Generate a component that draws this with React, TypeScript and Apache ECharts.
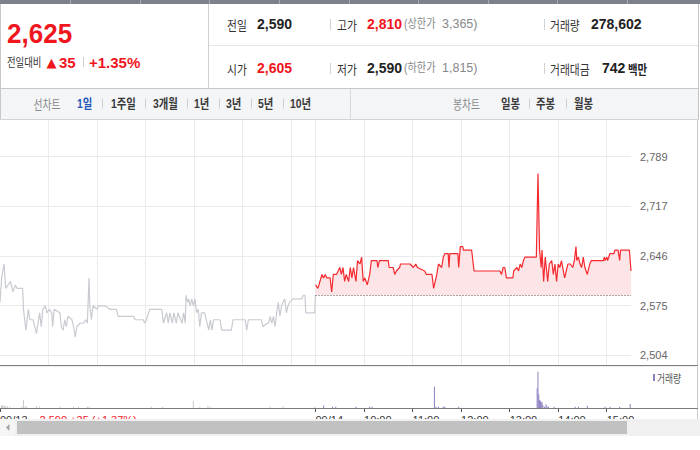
import React, { useEffect, useRef } from 'react';
import * as echarts from 'echarts';

// ---------------- data ----------------
const prevClose = 2590;
const priceTicks = [2504, 2575.25, 2646.5, 2717.75, 2789];

// previous day (minutes from 09:00)
const prevMin = [0, 2, 5, 7, 10, 13, 16, 19, 21, 28,
  29, 32, 35, 37, 41, 45, 49, 51, 53, 56,
  58, 61, 64, 65, 67, 74, 76, 78, 80, 82,
  84, 89, 91, 93, 95, 99, 103, 106, 108, 110,
  111, 113, 115, 120, 122, 128, 130, 136, 144, 146,
  165, 167, 177, 179, 181, 185, 200, 202, 206, 208,
  210, 213, 215, 218, 220, 225, 227, 229, 230, 232,
  233, 235, 237, 239, 241, 243, 245, 247, 249, 253,
  258, 260, 262, 264, 272, 274, 286, 288, 303, 305,
  307, 323, 325, 330, 332, 334, 336, 338, 340, 342,
  344, 346, 348, 350, 352, 354, 356, 358, 362, 373,
  375, 377, 378, 389, 390];
const prevPx = [2580, 2615, 2635, 2600, 2605, 2610, 2595, 2605, 2600, 2600,
  2570, 2540, 2570, 2555, 2555, 2535, 2565, 2545, 2570, 2575,
  2565, 2570, 2565, 2545, 2570, 2565, 2545, 2540, 2555, 2545,
  2560, 2555, 2545, 2530, 2545, 2550, 2550, 2555, 2550, 2615,
  2575, 2555, 2575, 2570, 2575, 2575, 2575, 2570, 2570, 2560,
  2560, 2555, 2555, 2550, 2555, 2570, 2570, 2550, 2565, 2550,
  2565, 2550, 2565, 2550, 2565, 2550, 2565, 2550, 2590, 2580,
  2585, 2575, 2585, 2575, 2585, 2565, 2570, 2545, 2565, 2565,
  2540, 2555, 2540, 2555, 2555, 2540, 2540, 2555, 2555, 2540,
  2555, 2555, 2545, 2550, 2550, 2560, 2550, 2560, 2545, 2565,
  2580, 2560, 2575, 2580, 2585, 2565, 2575, 2580, 2585, 2585,
  2590, 2590, 2565, 2565, 2590];

// today (minutes from 09:00)
const todayMin = [0, 3, 8, 10, 12, 14, 16, 18, 20, 22,
  26, 28, 30, 32, 34, 36, 38, 41, 43, 45,
  47, 50, 52, 55, 57, 59, 61, 64, 67, 69,
  76, 77, 79, 90, 91, 96, 98, 100, 104, 105,
  117, 121, 124, 126, 135, 137, 144, 146, 150, 152,
  156, 158, 160, 164, 165, 166, 176, 177, 179, 182,
  183, 193, 196, 228, 230, 232, 234, 236, 244, 245,
  249, 251, 253, 255, 257, 259, 273, 275, 277, 279,
  280, 282, 284, 287, 289, 292, 294, 296, 298, 300,
  302, 304, 308, 310, 312, 315, 318, 320, 322, 323,
  325, 327, 329, 331, 333, 336, 339, 341, 356, 357,
  358, 360, 361, 364, 369, 370, 374, 376, 377, 388,
  390];
const todayPx = [2605, 2600, 2620, 2615, 2620, 2615, 2615, 2615, 2595, 2620,
  2620, 2625, 2630, 2620, 2630, 2610, 2620, 2610, 2630, 2615,
  2630, 2610, 2640, 2635, 2645, 2610, 2615, 2605, 2620, 2640,
  2640, 2630, 2640, 2640, 2630, 2630, 2620, 2625, 2630, 2635,
  2635, 2630, 2635, 2630, 2625, 2620, 2620, 2600, 2620, 2635,
  2630, 2645, 2650, 2650, 2630, 2650, 2650, 2630, 2660, 2660,
  2655, 2655, 2625, 2625, 2620, 2630, 2630, 2615, 2615, 2625,
  2630, 2625, 2635, 2630, 2640, 2645, 2645, 2765, 2655, 2630,
  2655, 2610, 2645, 2610, 2635, 2640, 2620, 2635, 2610, 2635,
  2630, 2640, 2615, 2625, 2635, 2635, 2630, 2640, 2660, 2640,
  2645, 2635, 2630, 2645, 2630, 2620, 2635, 2640, 2640, 2645,
  2640, 2645, 2640, 2650, 2650, 2655, 2655, 2640, 2655, 2655,
  2625];

const prevVolMin = [2, 3, 5, 6, 7, 9, 12, 27, 29, 31, 33, 45, 49, 74, 91, 97, 108, 110, 187, 201, 239, 247, 257, 260, 334, 350, 389];
const prevVolVal = [4500, 3000, 4500, 3000, 2000, 3000, 2000, 2000, 12000, 3000, 2000, 3000, 2000, 2000, 2000, 2000, 2000, 2000, 2000, 2000, 11000, 2000, 3500, 2000, 2000, 3000, 2000];
const todayVolMin = [10, 21, 25, 50, 67, 70, 147, 149, 152, 158, 160, 177, 274, 275, 276, 277, 278, 279, 280, 281, 283, 285, 286, 288, 295, 321, 325, 336, 358, 364, 376, 389];
const todayVolVal = [3800, 2000, 2000, 2000, 2000, 2000, 32000, 2000, 2000, 2000, 2000, 2000, 29500, 54500, 20500, 12000, 10500, 8500, 8500, 4500, 2000, 5500, 3000, 2000, 2000, 2000, 2000, 3500, 2000, 2000, 2000, 6000];

const gridLineMinutes = [60, 120, 180, 240, 300, 360, 390, 450, 510, 570, 630, 690, 750];
const timeTickMinutes = [0, 390, 450, 510, 570, 630, 690, 750];
const prevDateLabel = '09/13';
const prevDateInfo = '2,590 +35 (+1.37%)';
const todayDateLabel = '09/14';

const currentPrice = '2,625';
const changeAmt = '35';
const changePct = '+1.35%';
const lineTabs = ['1일', '1주일', '3개월', '1년', '3년', '5년', '10년'];
const candleTabs = ['일봉', '주봉', '월봉'];

// ---------------- styling helpers ----------------
const NUM = "'Liberation Sans', 'Noto Sans CJK KR', sans-serif";
const KR = "'Noto Sans CJK KR', 'Liberation Sans', sans-serif";
const RED = '#f0161e';

const txt = (x: number, y: number, text: string, font: string, fill: string, scaleX = 1, z = 10) => ({
  type: 'text', x, y, scaleX, z, silent: true,
  style: { text, x: 0, y: 0, font, fill, textAlign: 'left', textVerticalAlign: 'middle' },
});
const ln = (x1: number, y1: number, x2: number, y2: number, stroke: string, z = 10) => ({
  type: 'line', z, silent: true, shape: { x1, y1, x2, y2 }, style: { stroke, lineWidth: 1 },
});
const rc = (x: number, y: number, width: number, height: number, fill: string, z = 10) => ({
  type: 'rect', z, silent: true, shape: { x, y, width, height }, style: { fill },
});

function buildGraphic() {
  const g: any[] = [];
  // top strip
  g.push(rc(0, 0, 700, 4, '#7d8189'));
  [70, 140, 209, 279, 349, 418, 488, 557, 627].forEach((x) => g.push(ln(x + 0.5, 0, x + 0.5, 4, '#a8acb2')));
  // header frame
  g.push(ln(0.5, 4, 0.5, 120, '#c9c9c9'));
  g.push(ln(208.5, 4, 208.5, 88, '#d0d0d0'));
  g.push(ln(698.5, 4, 698.5, 120, '#c4c4c4'));
  g.push(ln(209, 45.5, 698, 45.5, '#e6e6e6'));
  g.push(ln(0, 88.5, 699, 88.5, '#c6c6c6'));

  // left price box
  g.push(txt(7, 34, currentPrice, `bold 28px ${NUM}`, RED, 0.93));
  g.push(txt(7, 62, '전일대비', `12px ${KR}`, '#333333', 0.78));
  g.push(txt(46.5, 62, '▲', `13px 'DejaVu Sans', sans-serif`, RED));
  g.push(txt(59, 62, changeAmt, `bold 15px ${NUM}`, RED));
  g.push(ln(83.5, 57, 83.5, 67, '#d0d0d0'));
  g.push(txt(89, 62, changePct, `bold 15px ${NUM}`, RED));

  // info rows
  const lab = (x: number, y: number, s: string) => txt(x, y, s, `13px ${KR}`, '#333333', 0.83);
  const val = (x: number, y: number, s: string, c = '#222222') => txt(x, y, s, `bold 14px ${NUM}`, c);
  const par = (x: number, y: number, k: string, n: string) => {
    g.push(txt(x, y, k, `12px ${NUM}`, '#888888', 0.85));
    g.push(txt(x + 38, y, n, `12.5px ${NUM}`, '#888888'));
  };
  const r1 = 24, r2 = 68;
  g.push(lab(227, r1, '전일'), val(257, r1, '2,590'));
  g.push(ln(330.5, r1 - 5, 330.5, r1 + 6, '#d3d3d3'));
  g.push(lab(337, r1, '고가'), val(367, r1, '2,810', RED));
  par(404, r1, '(상한가', '3,365)');
  g.push(ln(544.5, r1 - 5, 544.5, r1 + 6, '#d3d3d3'));
  g.push(lab(550, r1, '거래량'), val(591, r1, '278,602'));

  g.push(lab(227, r2, '시가'), val(257, r2, '2,605', RED));
  g.push(ln(330.5, r2 - 5, 330.5, r2 + 6, '#d3d3d3'));
  g.push(lab(337, r2, '저가'), val(367, r2, '2,590'));
  par(404, r2, '(하한가', '1,815)');
  g.push(ln(544.5, r2 - 5, 544.5, r2 + 6, '#d3d3d3'));
  g.push(lab(550, r2, '거래대금'), val(602, r2, '742'));
  g.push(txt(628, r2, '백만', `bold 13px ${KR}`, '#222222', 0.8));

  // toolbar
  g.push(rc(1, 89, 697, 30, '#f4f5f7', 5));
  g.push(ln(0, 119.5, 699, 119.5, '#d2d4d8'));
  g.push(ln(350.5, 89, 350.5, 119, '#d8dadd'));
  const ty = 103.5;
  g.push(txt(33.5, ty, '선차트', `13px ${KR}`, '#8a8a8a', 0.75));
  const tabX = [77, 111, 153, 194, 226, 258, 290];
  lineTabs.forEach((s, i) => {
    g.push(txt(tabX[i], ty, s, `bold 13px ${NUM}`, i === 0 ? '#2457b8' : '#3a3a3a', 0.8));
  });
  [102, 145, 187, 219, 251, 283].forEach((x) => g.push(ln(x + 0.5, ty - 5, x + 0.5, ty + 5, '#cfcfcf')));
  g.push(txt(453, ty, '봉차트', `13px ${KR}`, '#8a8a8a', 0.75));
  const cX = [501, 536, 574];
  candleTabs.forEach((s, i) => g.push(txt(cX[i], ty, s, `bold 13px ${NUM}`, '#3a3a3a', 0.8)));
  [529, 566].forEach((x) => g.push(ln(x + 0.5, ty - 5, x + 0.5, ty + 5, '#cfcfcf')));

  // chart frame
  g.push(ln(697.5, 120, 697.5, 419, '#c8c8c8'));
  g.push(ln(0, 365.5, 698, 365.5, '#7f7f7f'));
  g.push(ln(0, 366.5, 698, 366.5, '#ececec'));
  g.push(ln(0, 408.5, 698, 408.5, '#7a7a7a'));

  // volume legend
  g.push(rc(653, 374, 2, 7, '#8f7fc1'));
  g.push(txt(657, 378, '거래량', `11.5px ${KR}`, '#555555', 0.76));

  // scrollbar (covers the time labels)
  g.push(rc(0, 419, 700, 17, '#f0f0f0', 100));
  g.push(rc(0, 419, 15, 17, '#f5f5f5', 100));
  g.push(rc(17, 421, 610, 13, '#c1c1c1', 101));
  g.push({ type: 'polygon', z: 101, silent: true, shape: { points: [[6, 427.5], [9.5, 424], [9.5, 431]] }, style: { fill: '#a3a3a3' } });
  return g;
}

const pad2 = (n: number) => (n < 10 ? '0' + n : '' + n);
const timeLabel = (v: number) => {
  if (v === 0) return `{d|${prevDateLabel}}{r|${prevDateInfo}}`;
  if (v === 390) return todayDateLabel;
  const t = v - 390;
  return `${pad2(9 + Math.floor(t / 60))}:${pad2(t % 60)}`;
};

// y range so that the tick values land on the reference grid lines
const pxPerUnit = (355.3 - 156.7) / (priceTicks[4] - priceTicks[0]);
const yMin = priceTicks[0] - (365 - 355.3) / pxPerUnit;
const yMax = priceTicks[4] + (156.7 - 120) / pxPerUnit;

function buildOption(): any {
  return {
    animation: false,
    backgroundColor: '#ffffff',
    grid: [
      { left: 0, right: 69, top: 120, height: 245, containLabel: false, outerBoundsMode: 'none' },
      { left: 0, right: 69, top: 367, height: 41, containLabel: false, outerBoundsMode: 'none' },
    ],
    xAxis: [
      {
        gridIndex: 0, type: 'value', min: 0, max: 780,
        axisLine: { show: false },
        axisTick: { show: false, customValues: gridLineMinutes },
        axisLabel: { show: false, customValues: gridLineMinutes },
        splitLine: { show: true, lineStyle: { color: '#ebebeb', width: 1 } },
      },
      {
        gridIndex: 1, type: 'value', min: 0, max: 780,
        axisLine: { show: false },
        axisTick: { show: true, customValues: timeTickMinutes, length: 4, lineStyle: { color: '#555555', width: 1 } },
        axisLabel: {
          show: true, customValues: timeTickMinutes, formatter: timeLabel, align: 'left', margin: 6,
          color: '#333333', fontSize: 11, fontFamily: NUM, hideOverlap: false,
          rich: {
            d: { color: '#333333', fontSize: 11, fontFamily: NUM },
            r: { color: RED, fontSize: 11, fontFamily: NUM, padding: [0, 0, 0, 12] },
          },
        },
        splitLine: { show: false },
      },
    ],
    yAxis: [
      {
        gridIndex: 0, type: 'value', position: 'right', min: yMin, max: yMax,
        axisLine: { show: false },
        axisTick: { show: false, customValues: priceTicks },
        axisLabel: {
          customValues: priceTicks, margin: 9, color: '#666666', fontSize: 11, fontFamily: NUM,
          formatter: (v: number) => Math.floor(v).toLocaleString('en-US'),
        },
        splitLine: { show: true, lineStyle: { color: '#ebebeb', width: 1 } },
      },
      { gridIndex: 1, type: 'value', min: 0, max: 61500, show: false, splitLine: { show: false } },
    ],
    series: [
      {
        type: 'line', xAxisIndex: 0, yAxisIndex: 0, symbol: 'none', silent: true,
        lineStyle: { color: '#c8cbd1', width: 1.2 },
        data: prevMin.map((m, i) => [m, prevPx[i]]),
      },
      {
        type: 'line', xAxisIndex: 0, yAxisIndex: 0, symbol: 'none', silent: true,
        lineStyle: { color: '#f52a2f', width: 1.2 },
        areaStyle: { color: '#fce4e7', origin: prevClose, opacity: 1 },
        data: todayMin.map((m, i) => [m + 390, todayPx[i]]),
        markLine: {
          silent: true, symbol: ['none', 'none'], label: { show: false },
          lineStyle: { type: [1, 2], color: '#555555', width: 1 },
          emphasis: { disabled: true },
          data: [[{ coord: [390, prevClose] }, { coord: [780, prevClose] }]],
        },
      },
      {
        type: 'bar', xAxisIndex: 1, yAxisIndex: 1, barWidth: 1, silent: true,
        itemStyle: { color: '#c9c9c9' },
        data: prevVolMin.map((m, i) => [m, prevVolVal[i]]),
      },
      {
        type: 'bar', xAxisIndex: 1, yAxisIndex: 1, barWidth: 1, silent: true, barGap: '-100%',
        itemStyle: { color: '#8f7fc1' },
        data: todayVolMin.map((m, i) => [m + 390, todayVolVal[i]]),
      },
    ],
    graphic: { elements: buildGraphic() },
  };
}

export default function App() {
  const ref = useRef<HTMLDivElement>(null);
  useEffect(() => {
    if (!ref.current) return;
    const chart = echarts.init(ref.current, null, { renderer: 'svg' });
    chart.setOption(buildOption());
    return () => chart.dispose();
  }, []);
  return (
    <div
      ref={ref}
      style={{ position: 'fixed', left: 0, top: 0, width: 700, height: 450, background: '#ffffff' }}
    />
  );
}
